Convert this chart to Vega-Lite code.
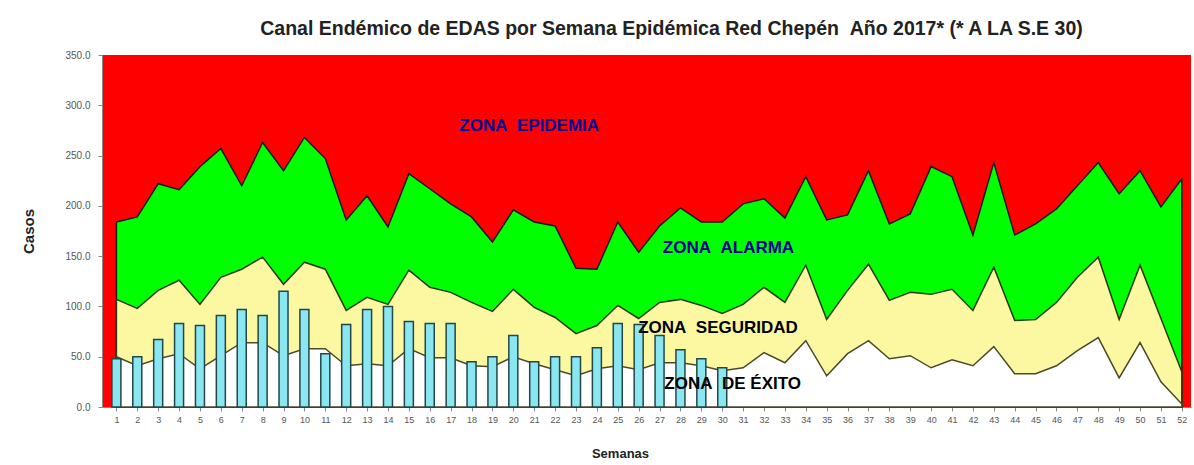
{
  "$schema": "https://vega.github.io/schema/vega-lite/v6.json",
  "width": 1089,
  "height": 352,
  "autosize": {"type": "none"},
  "padding": {"left": 102, "top": 55, "right": 3, "bottom": 58},
  "background": "#FFFFFF",
  "view": {"fill": "#FF0000", "stroke": null},
  "title": {
    "text": "Canal Endémico de EDAS por Semana Epidémica Red Chepén\u00a0\u00a0Año 2017* (* A LA S.E 30)",
    "font": "Liberation Sans",
    "fontSize": 19.5,
    "fontWeight": "bold",
    "color": "#222222",
    "anchor": "middle",
    "dx": 25,
    "offset": 11
  },
  "config": {
    "font": "Liberation Sans",
    "axis": {"grid": false, "labelFont": "Liberation Sans", "titleFont": "Liberation Sans"}
  },
  "data": {
    "values": [
      {"semana": 1, "alarma": 184, "seguridad": 107, "exito": 50, "casos": 48},
      {"semana": 2, "alarma": 189, "seguridad": 98, "exito": 41, "casos": 50},
      {"semana": 3, "alarma": 222, "seguridad": 116, "exito": 48, "casos": 67},
      {"semana": 4, "alarma": 216, "seguridad": 126, "exito": 53, "casos": 83},
      {"semana": 5, "alarma": 239, "seguridad": 102, "exito": 38, "casos": 81},
      {"semana": 6, "alarma": 257, "seguridad": 129, "exito": 51, "casos": 91},
      {"semana": 7, "alarma": 220, "seguridad": 137, "exito": 64, "casos": 97},
      {"semana": 8, "alarma": 263, "seguridad": 149, "exito": 64, "casos": 91},
      {"semana": 9, "alarma": 235, "seguridad": 122, "exito": 51, "casos": 115},
      {"semana": 10, "alarma": 268, "seguridad": 144, "exito": 58, "casos": 97},
      {"semana": 11, "alarma": 247, "seguridad": 137, "exito": 58, "casos": 53},
      {"semana": 12, "alarma": 186, "seguridad": 96, "exito": 41, "casos": 82},
      {"semana": 13, "alarma": 210, "seguridad": 109, "exito": 43, "casos": 97},
      {"semana": 14, "alarma": 179, "seguridad": 102, "exito": 41, "casos": 100},
      {"semana": 15, "alarma": 232, "seguridad": 136, "exito": 58, "casos": 85},
      {"semana": 16, "alarma": 217, "seguridad": 119, "exito": 49, "casos": 83},
      {"semana": 17, "alarma": 202, "seguridad": 114, "exito": 49, "casos": 83},
      {"semana": 18, "alarma": 189, "seguridad": 104, "exito": 41, "casos": 45},
      {"semana": 19, "alarma": 164, "seguridad": 95, "exito": 40, "casos": 50},
      {"semana": 20, "alarma": 196, "seguridad": 117, "exito": 50, "casos": 71},
      {"semana": 21, "alarma": 184, "seguridad": 99, "exito": 43, "casos": 45},
      {"semana": 22, "alarma": 180, "seguridad": 89, "exito": 37, "casos": 50},
      {"semana": 23, "alarma": 138, "seguridad": 73, "exito": 31, "casos": 50},
      {"semana": 24, "alarma": 137, "seguridad": 81, "exito": 38, "casos": 59},
      {"semana": 25, "alarma": 184, "seguridad": 101, "exito": 41, "casos": 83},
      {"semana": 26, "alarma": 154, "seguridad": 88, "exito": 37, "casos": 82},
      {"semana": 27, "alarma": 180, "seguridad": 104, "exito": 44, "casos": 71},
      {"semana": 28, "alarma": 198, "seguridad": 107, "exito": 44, "casos": 57},
      {"semana": 29, "alarma": 184, "seguridad": 101, "exito": 41, "casos": 48},
      {"semana": 30, "alarma": 184, "seguridad": 93, "exito": 36, "casos": 39},
      {"semana": 31, "alarma": 202, "seguridad": 102, "exito": 39, "casos": null},
      {"semana": 32, "alarma": 207, "seguridad": 119, "exito": 54, "casos": null},
      {"semana": 33, "alarma": 188, "seguridad": 104, "exito": 44, "casos": null},
      {"semana": 34, "alarma": 229, "seguridad": 141, "exito": 66, "casos": null},
      {"semana": 35, "alarma": 186, "seguridad": 87, "exito": 31, "casos": null},
      {"semana": 36, "alarma": 191, "seguridad": 116, "exito": 53, "casos": null},
      {"semana": 37, "alarma": 235, "seguridad": 142, "exito": 66, "casos": null},
      {"semana": 38, "alarma": 182, "seguridad": 106, "exito": 48, "casos": null},
      {"semana": 39, "alarma": 192, "seguridad": 114, "exito": 51, "casos": null},
      {"semana": 40, "alarma": 239, "seguridad": 112, "exito": 39, "casos": null},
      {"semana": 41, "alarma": 229, "seguridad": 117, "exito": 47, "casos": null},
      {"semana": 42, "alarma": 171, "seguridad": 96, "exito": 41, "casos": null},
      {"semana": 43, "alarma": 243, "seguridad": 139, "exito": 60, "casos": null},
      {"semana": 44, "alarma": 171, "seguridad": 86, "exito": 33, "casos": null},
      {"semana": 45, "alarma": 182, "seguridad": 87, "exito": 33, "casos": null},
      {"semana": 46, "alarma": 197, "seguridad": 104, "exito": 41, "casos": null},
      {"semana": 47, "alarma": 220, "seguridad": 129, "exito": 56, "casos": null},
      {"semana": 48, "alarma": 243, "seguridad": 149, "exito": 69, "casos": null},
      {"semana": 49, "alarma": 212, "seguridad": 87, "exito": 29, "casos": null},
      {"semana": 50, "alarma": 235, "seguridad": 141, "exito": 64, "casos": null},
      {"semana": 51, "alarma": 199, "seguridad": 88, "exito": 25, "casos": null},
      {"semana": 52, "alarma": 227, "seguridad": 35, "exito": 3, "casos": null}
    ]
  },
  "encoding": {
    "x": {
      "field": "semana",
      "type": "quantitative",
      "scale": {"domain": [0.55, 52.2], "nice": false, "zero": false},
      "axis": {
        "title": "Semanas",
        "titleFontSize": 13,
        "titleFontWeight": "bold",
        "titleColor": "#222222",
        "titleX": 518,
        "titleY": 46,
        "titleBaseline": "middle",
        "values": [1,2,3,4,5,6,7,8,9,10,11,12,13,14,15,16,17,18,19,20,21,22,23,24,25,26,27,28,29,30,31,32,33,34,35,36,37,38,39,40,41,42,43,44,45,46,47,48,49,50,51,52],
        "format": "d",
        "labelFontSize": 9,
        "labelColor": "#555555",
        "labelPadding": 4,
        "labelFlush": false,
        "labelOverlap": false,
        "tickSize": 4,
        "tickColor": "#888888",
        "domainColor": "#888888"
      }
    }
  },
  "layer": [
    {
      "mark": {"type": "area", "color": "#00FF00", "stroke": "#1a1a1a", "strokeWidth": 1.5, "opacity": 1},
      "encoding": {
        "y": {
          "field": "alarma",
          "type": "quantitative",
          "scale": {"domain": [0, 350], "nice": false},
          "axis": {
            "title": "Casos",
            "titleFontSize": 15,
            "titleFontWeight": "bold",
            "titleColor": "#222222",
            "titleX": -74,
            "titleY": 176,
            "titleAngle": -90,
            "titleBaseline": "middle",
            "titleAlign": "center",
            "values": [0, 50, 100, 150, 200, 250, 300, 350],
            "format": ".1f",
            "labelFontSize": 10,
            "labelColor": "#555555",
            "labelPadding": 8,
            "tickSize": 4,
            "tickColor": "#888888",
            "domainColor": "#888888"
          }
        }
      }
    },
    {
      "mark": {"type": "area", "color": "#FCF8A2", "stroke": "#2a3a10", "strokeWidth": 1.5, "opacity": 1},
      "encoding": {"y": {"field": "seguridad", "type": "quantitative"}}
    },
    {
      "mark": {"type": "area", "color": "#FFFFFF", "stroke": "#4a4a2a", "strokeWidth": 1.5, "opacity": 1},
      "encoding": {"y": {"field": "exito", "type": "quantitative"}}
    },
    {
      "transform": [{"filter": "isValid(datum.casos)"}],
      "mark": {"type": "bar", "width": 9, "color": "#8AE6F0", "stroke": "#204848", "strokeWidth": 1.5},
      "encoding": {"y": {"field": "casos", "type": "quantitative"}}
    },
    {
      "transform": [{"filter": "datum.semana == 1"}],
      "mark": {"type": "text", "text": "ZONA\u00a0\u00a0EPIDEMIA", "font": "Liberation Sans", "fontSize": 17, "fontWeight": "bold", "color": "#000099", "align": "center", "baseline": "middle"},
      "encoding": {"x": {"datum": 20.76}, "y": {"datum": 279}}
    },
    {
      "transform": [{"filter": "datum.semana == 1"}],
      "mark": {"type": "text", "text": "ZONA\u00a0\u00a0ALARMA", "font": "Liberation Sans", "fontSize": 17, "fontWeight": "bold", "color": "#000099", "align": "center", "baseline": "middle"},
      "encoding": {"x": {"datum": 30.3}, "y": {"datum": 157.7}}
    },
    {
      "transform": [{"filter": "datum.semana == 1"}],
      "mark": {"type": "text", "text": "ZONA\u00a0\u00a0SEGURIDAD", "font": "Liberation Sans", "fontSize": 17, "fontWeight": "bold", "color": "#000000", "align": "center", "baseline": "middle"},
      "encoding": {"x": {"datum": 29.8}, "y": {"datum": 79}}
    },
    {
      "transform": [{"filter": "datum.semana == 1"}],
      "mark": {"type": "text", "text": "ZONA\u00a0\u00a0DE ÉXITO", "font": "Liberation Sans", "fontSize": 17, "fontWeight": "bold", "color": "#000000", "align": "center", "baseline": "middle"},
      "encoding": {"x": {"datum": 30.5}, "y": {"datum": 22.4}}
    }
  ]
}
